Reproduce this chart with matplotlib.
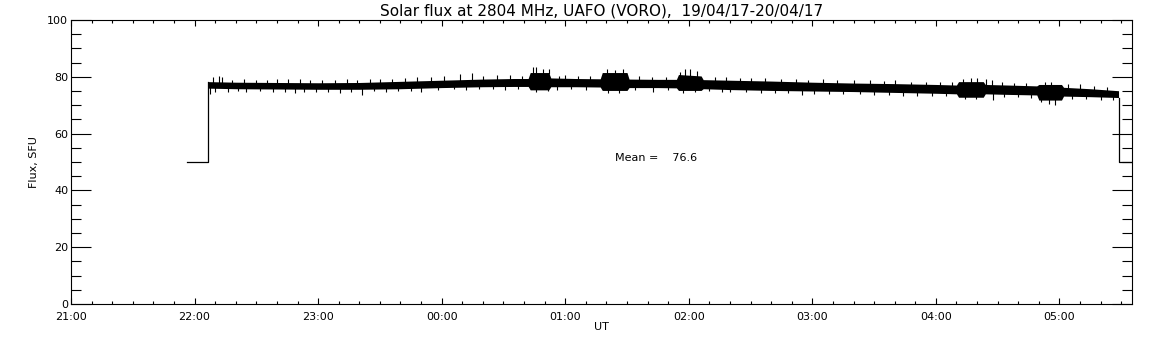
import matplotlib
matplotlib.use("Agg")
import matplotlib.pyplot as plt
import numpy as np
from matplotlib.ticker import MultipleLocator, FixedLocator

# ---- data (time in minutes after 21:00 UT, flux in SFU) ----
lead_t = [56.3, 66.5]
lead_v = [50, 50]
tail_t = [508.7, 515.0]
tail_v = [50, 50]

band_t = [66.5, 80, 100, 120, 140, 160, 180, 200, 215, 222, 223, 232, 233, 245, 257,
          258, 270, 271, 285, 294, 295, 306, 307, 320, 340, 360, 380, 400, 420, 430,
          431, 443, 444, 455, 469, 470, 481, 482, 495, 508.7]
band_top = [78.3, 78.1, 78.0, 77.9, 78.0, 78.4, 78.8, 79.2, 79.4, 79.4, 81.5, 81.5, 79.6, 79.4, 79.3,
            81.5, 81.5, 79.2, 79.1, 79.1, 80.8, 80.3, 79.0, 78.8, 78.5, 78.1, 77.8, 77.6, 77.3, 77.1,
            78.3, 78.3, 77.3, 77.1, 76.8, 77.3, 77.3, 76.3, 75.8, 75.1]
band_bot = [76.0, 75.8, 75.7, 75.6, 75.6, 75.8, 76.2, 76.5, 76.6, 76.6, 75.4, 75.4, 76.5, 76.5, 76.4,
            75.2, 75.2, 76.2, 76.2, 76.1, 75.2, 75.2, 75.8, 75.5, 75.2, 75.0, 74.8, 74.5, 74.2, 74.0,
            72.8, 72.8, 74.0, 73.8, 73.6, 71.8, 71.8, 73.2, 73.0, 72.7]

spike_up_t = [68.9, 72.0, 73.3, 78.0, 84.0, 90.0, 95.0, 100.0, 105.3, 111.2, 116.0, 122.0, 128.0,
              134.0, 139.0, 145.0, 150.0, 156.0, 162.0, 168.0, 175.0, 181.0, 188.8, 194.7, 200.0,
              207.0, 213.0, 219.0, 224.3, 225.7, 229.0, 232.0, 237.0, 240.0, 246.0, 252.0, 260.2,
              264.0, 268.0, 276.0, 282.0, 289.0, 295.6, 298.0, 300.5, 304.0, 312.6, 318.0, 325.0,
              330.0, 337.0, 345.0, 352.0, 358.0, 365.0, 372.0, 380.0, 388.0, 395.0, 400.0, 408.0,
              415.0, 422.0, 428.0, 433.0, 437.2, 440.0, 444.5, 447.1, 452.0, 458.0, 464.0, 472.8,
              476.0, 484.0, 490.0, 497.0, 503.0]
spike_up_v = [80.1, 80.3, 80.1, 79.0, 79.2, 78.8, 79.0, 79.3, 79.3, 79.3, 78.8, 78.9, 79.0,
              79.1, 78.9, 79.2, 79.2, 79.4, 79.6, 80.0, 80.0, 80.3, 81.0, 81.4, 80.4,
              80.5, 80.6, 80.4, 83.5, 83.5, 82.8, 82.9, 80.4, 80.5, 80.3, 80.4, 82.6,
              82.4, 82.6, 80.2, 80.1, 80.0, 81.7, 82.9, 82.6, 82.0, 79.9, 79.8, 79.7,
              79.6, 79.5, 79.3, 79.2, 79.0, 79.2, 78.8, 78.7, 78.8, 78.5, 78.8, 78.3,
              78.2, 78.0, 78.1, 79.4, 79.6, 79.5, 79.3, 78.8, 78.0, 77.9, 77.8, 78.2,
              78.3, 77.4, 77.3, 76.9, 76.5]
spike_dn_t = [67.5, 70.0, 76.0, 81.0, 85.0, 92.0, 98.0, 104.0, 108.7, 113.0, 119.0, 125.0, 130.6,
              136.0, 141.1, 147.0, 153.0, 159.0, 165.0, 170.0, 178.0, 186.0, 192.0, 198.0, 205.0,
              211.0, 217.0, 226.0, 231.6, 236.0, 243.0, 250.0, 261.0, 266.0, 274.0, 282.5, 290.0,
              297.0, 303.0, 310.0, 316.0, 320.0, 328.0, 335.0, 342.0, 348.0, 354.9, 361.0, 368.0,
              375.0, 383.0, 390.0, 397.0, 404.0, 411.0, 418.0, 425.0, 434.0, 439.7, 447.6, 453.0,
              460.0, 466.0, 471.0, 475.0, 477.7, 486.0, 493.0, 500.0, 506.0]
spike_dn_v = [74.0, 74.6, 74.8, 74.9, 74.5, 74.9, 74.8, 74.7, 74.2, 74.8, 74.7, 74.6, 74.2,
              74.7, 73.6, 74.9, 74.8, 75.0, 75.1, 74.8, 75.3, 75.6, 75.5, 75.6, 75.7,
              75.5, 75.6, 74.6, 74.9, 75.5, 75.6, 75.5, 74.4, 74.3, 75.4, 74.5, 75.3,
              74.4, 74.5, 74.9, 74.8, 74.6, 74.5, 74.4, 74.3, 74.2, 73.7, 74.0, 73.9,
              73.9, 73.8, 73.6, 73.5, 73.4, 73.3, 73.2, 73.2, 72.3, 72.1, 71.8, 72.9,
              72.8, 72.7, 71.0, 70.5, 70.2, 72.3, 72.2, 71.8, 72.0]

mean_value = 76.6
x_tick_pos = [0, 60, 120, 180, 240, 300, 360, 420, 480]
x_tick_labels = ["21:00", "22:00", "23:00", "00:00", "01:00", "02:00", "03:00", "04:00", "05:00"]
title_text = "Solar flux at 2804 MHz, UAFO (VORO),  19/04/17-20/04/17"

# ---- figure ----
fig = plt.figure(figsize=(11.52, 3.45), dpi=100)
ax = fig.add_axes([71 / 1152, 1 - 304 / 345, (1131.5 - 71) / 1152, (304 - 20) / 345])
lw = 0.9
k = "black"

ax.plot(lead_t + [band_t[0]], lead_v + [band_top[0]], color=k, lw=lw)
ax.plot([band_t[-1]] + tail_t, [band_bot[-1]] + tail_v, color=k, lw=lw)
ax.fill_between(band_t, band_bot, band_top, color=k, lw=0)
top_at_up = np.interp(spike_up_t, band_t, band_top)
bot_at_dn = np.interp(spike_dn_t, band_t, band_bot)
ax.vlines(spike_up_t, top_at_up - 0.5, spike_up_v, color=k, lw=0.8)
ax.vlines(spike_dn_t, spike_dn_v, bot_at_dn + 0.5, color=k, lw=0.8)

ax.text(264.0, 51.3, "Mean =    " + f"{mean_value:.1f}", fontsize=8, ha="left", va="center")

ax.set_xlim(0, 515)
ax.set_ylim(0, 100)
ax.xaxis.set_major_locator(FixedLocator(x_tick_pos))
ax.set_xticklabels(x_tick_labels)
ax.xaxis.set_minor_locator(MultipleLocator(10))
ax.yaxis.set_major_locator(MultipleLocator(20))
ax.yaxis.set_minor_locator(MultipleLocator(5))

ax.tick_params(axis="x", which="major", direction="in", length=4.3, width=0.8, top=True,
               labelsize=8, pad=6)
ax.tick_params(axis="x", which="minor", direction="in", length=2.2, width=0.8, top=True)
ax.tick_params(axis="y", which="major", direction="in", length=14.4, width=0.8, right=True,
               labelsize=8, pad=2)
ax.tick_params(axis="y", which="minor", direction="in", length=7.2, width=0.8, right=True)
for s in ax.spines.values():
    s.set_linewidth(0.8)

ax.set_xlabel("UT", fontsize=8, labelpad=0)
ax.set_ylabel("Flux, SFU", fontsize=8, labelpad=6)
ax.set_title(title_text, fontsize=11, pad=3)

fig.savefig("out.png", dpi=100)
